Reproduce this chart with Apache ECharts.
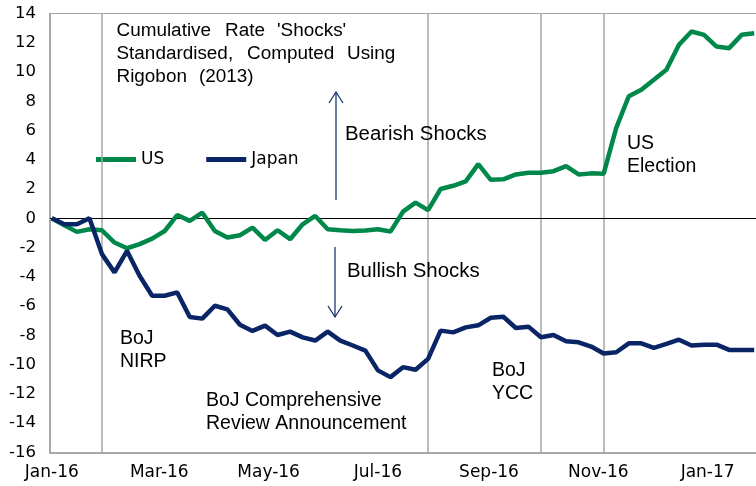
<!DOCTYPE html>
<html><head><meta charset="utf-8">
<script src="https://cdn.jsdelivr.net/npm/echarts@6/dist/echarts.min.js"></script>
<style>html,body{margin:0;padding:0;background:#fff}#c{width:756px;height:486px}</style>
</head><body><div id="c"></div>
<script>
// Weekly observation dates (Fridays)
const weeks = ['2016-01-01','2016-01-08','2016-01-15','2016-01-22','2016-01-29','2016-02-05','2016-02-12','2016-02-19','2016-02-26',
'2016-03-04','2016-03-11','2016-03-18','2016-03-25','2016-04-01','2016-04-08','2016-04-15','2016-04-22','2016-04-29',
'2016-05-06','2016-05-13','2016-05-20','2016-05-27','2016-06-03','2016-06-10','2016-06-17','2016-06-24',
'2016-07-01','2016-07-08','2016-07-15','2016-07-22','2016-07-29','2016-08-05','2016-08-12','2016-08-19','2016-08-26',
'2016-09-02','2016-09-09','2016-09-16','2016-09-23','2016-09-30','2016-10-07','2016-10-14','2016-10-21','2016-10-28',
'2016-11-04','2016-11-11','2016-11-18','2016-11-25','2016-12-02','2016-12-09','2016-12-16','2016-12-23','2016-12-30',
'2017-01-06','2017-01-13','2017-01-20','2017-01-27'];
const usShocks = [0,-0.48,-0.93,-0.75,-0.82,-1.66,-2.05,-1.77,-1.39,-0.87,0.22,-0.18,0.38,-0.87,-1.32,-1.16,-0.64,-1.48,-0.82,-1.43,
-0.41,0.16,-0.75,-0.82,-0.87,-0.84,-0.75,-0.91,0.45,1.07,0.56,2.0,2.22,2.52,3.7,2.63,2.66,3.0,3.11,3.11,3.22,3.57,3.0,3.07,3.05,
6.18,8.34,8.79,9.47,10.16,11.86,12.77,12.54,11.74,11.63,12.54,12.65];
const japanShocks = [0,-0.41,-0.41,0.0,-2.45,-3.7,-2.23,-3.93,-5.3,-5.3,-5.07,-6.75,-6.86,-5.98,-6.23,-7.28,-7.7,-7.34,-7.98,-7.75,
-8.14,-8.36,-7.75,-8.36,-8.7,-9.05,-10.4,-10.86,-10.18,-10.36,-9.61,-7.68,-7.8,-7.46,-7.32,-6.8,-6.73,-7.5,-7.41,-8.14,-7.98,
-8.41,-8.48,-8.77,-9.25,-9.16,-8.55,-8.55,-8.86,-8.59,-8.3,-8.7,-8.64,-8.64,-9.0,-9.0,-9.0];
const tickDates = ['2016-01-01','2016-03-01','2016-05-01','2016-07-01','2016-09-01','2016-11-01','2017-01-01'];
const tickLabels = ['Jan-16','Mar-16','May-16','Jul-16','Sep-16','Nov-16','Jan-17'];
const eventDates = ['2016-01-29','2016-07-29','2016-09-30','2016-11-04'];
const axisStart = '2015-12-31', axisEnd = '2017-01-28';
const yMin = -16, yMax = 14, yStep = 2;

// daily category scaffold for the date axis
const days = [];
for (let t = Date.parse(axisStart + 'T00:00:00Z'); t <= Date.parse(axisEnd + 'T00:00:00Z'); t += 86400000) {
  days.push(new Date(t).toISOString().slice(0, 10));
}

const FONT = '"DejaVu Sans", sans-serif';
const AFONT = '"Liberation Sans", Arial, sans-serif';
const GREEN = '#00884a', NAVY = '#0a2566', GREY = '#a6a6a6';
const chart = echarts.init(document.getElementById('c'));
function txt(text, x, y, size, sx) {
  return { type: 'text', x: x, y: y, scaleX: sx || 1, silent: true, z: 50,
    style: { text: text, fill: '#000', font: size + 'px ' + AFONT, textVerticalAlign: 'middle', textAlign: 'left' } };
}
function arrow(x, y1, y2) {
  const d = y2 > y1 ? -1 : 1;
  return [
    { type: 'line', silent: true, z: 50, shape: { x1: x, y1: y1, x2: x, y2: y2 }, style: { stroke: NAVY, lineWidth: 1.2 } },
    { type: 'polyline', silent: true, z: 50, shape: { points: [[x - 7, y2 + d * 11], [x, y2], [x + 7, y2 + d * 11]] }, style: { stroke: NAVY, lineWidth: 1.2, fill: null } }
  ];
}
chart.setOption({
  animation: false,
  grid: { left: 50, right: 0, top: 13.5, bottom: 33.7, containLabel: false },
  legend: {
    left: 91, top: 146, itemWidth: 40, itemHeight: 5, itemGap: 42, icon: 'rect',
    textStyle: { fontFamily: FONT, fontSize: 17, color: '#000', padding: [0, 0, 0, 0] },
    data: ['US', 'Japan']
  },
  xAxis: {
    type: 'category', data: days, boundaryGap: false,
    axisLine: { onZero: false, lineStyle: { color: '#8c8c8c', width: 1.5 } },
    axisTick: { show: false },
    axisLabel: {
      interval: function (i, v) { return tickDates.indexOf(v) >= 0; },
      formatter: function (v) { return tickLabels[tickDates.indexOf(v)]; },
      fontFamily: FONT, fontSize: 17, color: '#000', margin: 12
    },
    splitLine: { show: false }
  },
  yAxis: {
    type: 'value', min: yMin, max: yMax, interval: yStep,
    axisLine: { show: true, lineStyle: { color: '#8c8c8c', width: 1.5 } },
    axisTick: { show: false },
    splitLine: { show: false },
    axisLabel: { fontFamily: FONT, fontSize: 16.5, color: '#000', margin: 14 }
  },
  series: [
    { name: 'refs', type: 'line', data: [], z: 1, silent: true,
      markLine: { silent: true, symbol: 'none', label: { show: false }, animation: false,
        data: eventDates.map(function (d) { return { xAxis: d, lineStyle: { color: GREY, width: 1.5, type: 'solid' } }; })
          .concat([{ yAxis: 0, lineStyle: { color: '#000', width: 1.2, type: 'solid' } },
                   { yAxis: yMax, lineStyle: { color: GREY, width: 1.2, type: 'solid' } }]) } },
    { name: 'US', type: 'line', z: 5, symbol: 'none', color: GREEN, lineStyle: { width: 4.5, color: GREEN },
      data: weeks.map(function (d, i) { return [d, usShocks[i]]; }) },
    { name: 'Japan', type: 'line', z: 6, symbol: 'none', color: NAVY, lineStyle: { width: 4.5, color: NAVY },
      data: weeks.map(function (d, i) { return [d, japanShocks[i]]; }) }
  ],
  graphic: [
    txt('Cumulative', 116.5, 31, 18, 1.05), txt('Rate', 225, 31, 18, 1.05), txt("'Shocks'", 277, 31, 18, 1.05),
    txt('Standardised,', 116.5, 54, 18, 1.05), txt('Computed', 247, 54, 18, 1.05), txt('Using', 347, 54, 18, 1.05),
    txt('Rigobon', 116.5, 77, 18, 1.05), txt('(2013)', 199, 77, 18, 1.05),
    txt('Bearish Shocks', 345, 134, 20, 1.02),
    txt('Bullish Shocks', 347, 271, 20, 1.02),
    txt('BoJ', 120, 339, 19.5), txt('NIRP', 120, 362, 19.5),
    txt('BoJ Comprehensive', 206, 401, 19.5), txt('Review Announcement', 206, 424, 19.5),
    txt('BoJ', 492, 371, 19.5), txt('YCC', 492, 394, 19.5),
    txt('US', 627, 144, 19.5), txt('Election', 627, 167, 19.5)
  ].concat(arrow(336, 200, 92)).concat(arrow(335, 247, 317))
});
</script>
</body></html>
